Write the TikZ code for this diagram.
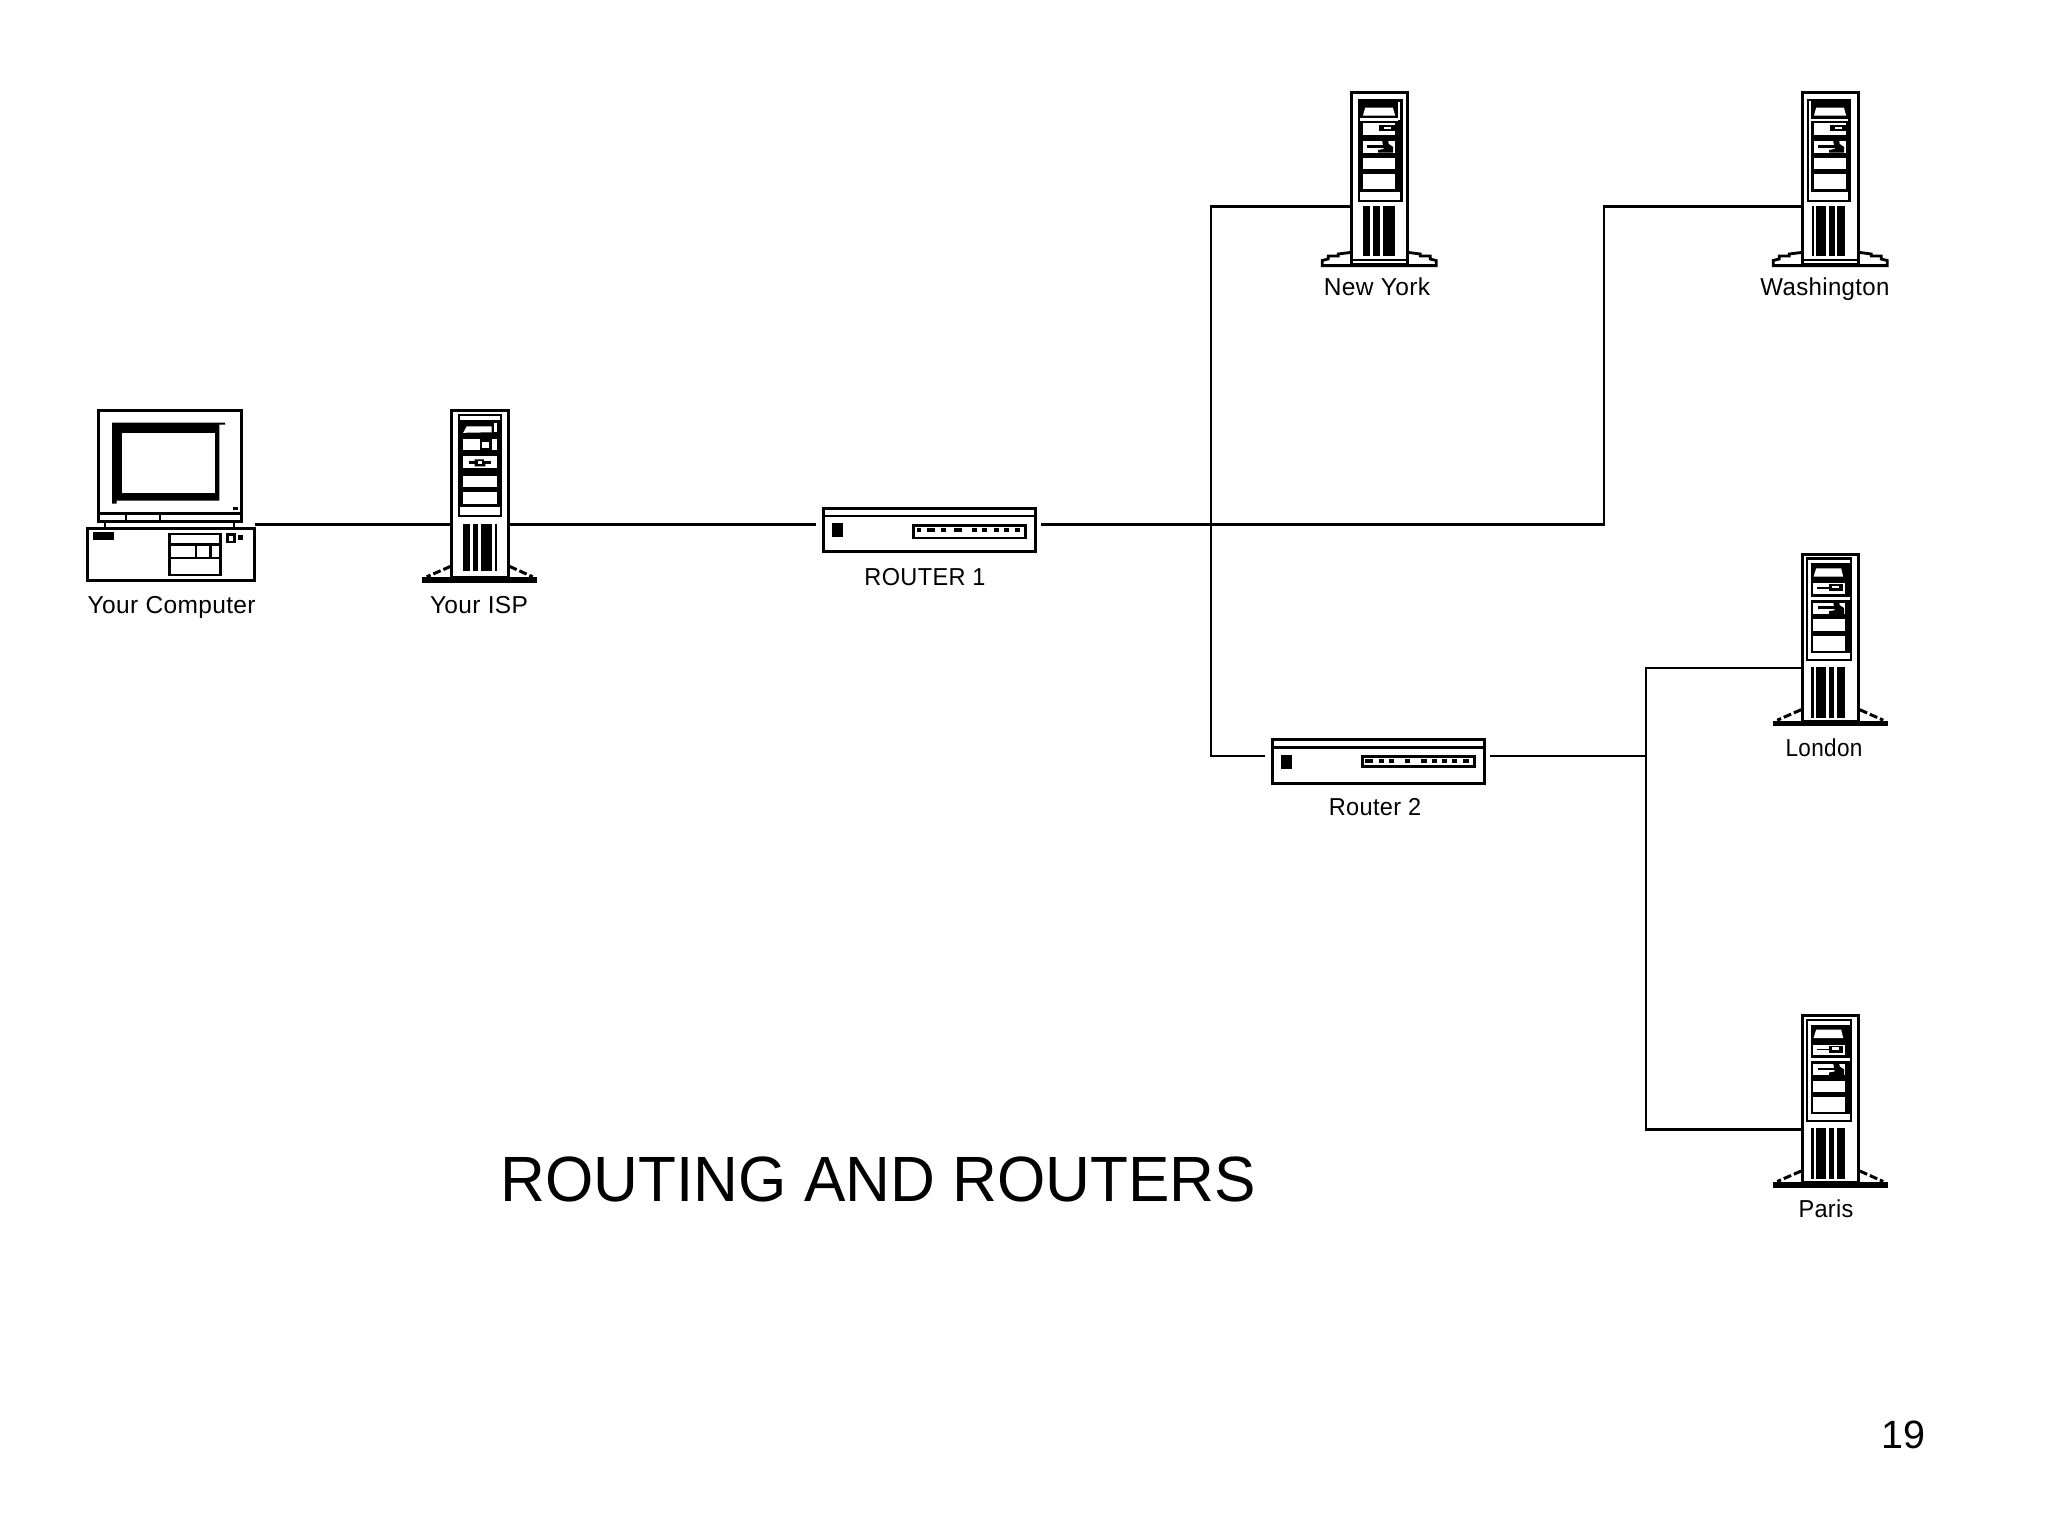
\documentclass[tikz,border=0pt]{standalone}
\usepackage{fontspec}
\setmainfont{Liberation Sans}
\newfontfamily\devfont[LetterSpace=1.5]{Liberation Sans}
% ---- server pieces (local coordinates: tower top left = 0,0; y points down)
\newcommand{\wbox}[4]{\fill[white] (#1,#3) rectangle (#2,#4);}
\newcommand{\kbox}[4]{\fill[black] (#1,#3) rectangle (#2,#4);}
\newcommand{\TowerSlope}{%
  \fill[white] (2,156) -- (-25,168) -- (-25,171) -- (84,171) -- (57,156) -- cycle;
  \kbox{-28.5}{86.5}{168}{173.5}
  \draw[footdash] (0,157) -- (-24,167.5);
  \draw[footdash] (58.6,157) -- (82,167.5);
  \node[towerbox,minimum height=167pt] (-body) at (29.3,85) {};
  \coordinate (-portw) at (0,115.3);
  \coordinate (-porte) at (58.6,115.3);
}
\newcommand{\TowerStep}{%
  \draw[line width=2.8pt,fill=white,miter limit=2]
    (0,161.5) -- (-12,163) -- (-12,165) -- (-22,165) -- (-22,168) -- (-28,169.5) -- (-28,174.6) -- (86,174.6)
    -- (86,169.5) -- (80,168) -- (80,165) -- (70,165) -- (70,163) -- (58.6,161.5);
  \node[towerbox,minimum height=172pt] (-body) at (29.3,87.5) {};
  \fill (0,167.5) rectangle (58.6,170);
  \coordinate (-portw) at (0,115.7);
  \coordinate (-porte) at (58.6,115.7);
}
\newcommand{\Slits}[5]{% x1 x2 y1 y2, list of slits
  \kbox{#1}{#2}{#3}{#4}
  \foreach \a/\b in {#5} {\fill[white] (\a,#3) rectangle (\b,#4);}
}
\newcommand{\GlyphRowTwo}[2]{% y of row top, left x of the row
  \kbox{#2+16}{45}{#1+1}{#1+7.5}
  \wbox{#2+21}{#2+28}{#1+3}{#1+5.5}
}
\newcommand{\GlyphRowThree}[1]{%
  \kbox{16.5}{33.5}{#1+4}{#1+6.7}
  \fill[black] (32,#1) -- (38,#1) -- (38.5,#1+3) -- (43,#1+6) -- (43,#1+11.7) -- (28,#1+11.7) -- (28,#1+9) -- (33.5,#1+8) -- cycle;
}
\newcommand{\PanelNY}{%
  \wbox{12.7}{45}{32.3}{44}
  \GlyphRowTwo{32.8}{12.7}
  \wbox{12.7}{45}{50}{61.7}
  \GlyphRowThree{50}
  \wbox{12.7}{45}{66.7}{78}
  \wbox{12.7}{45}{83.3}{98}
  \fill[white] (15,16.7) -- (42.7,16.7) -- (45,24.7) -- (12.7,24.7) -- cycle;
}
\tikzset{
  wire/.style={line width=2.7pt,line join=miter},
  towerbox/.style={draw=black,fill=white,line width=3pt,inner sep=0pt,outer sep=0pt,minimum width=56.6pt},
  footdash/.style={line width=3pt,dash pattern=on 8pt off 3pt},
  boxline/.style={draw=black,fill=white,line width=3pt,inner sep=0pt,outer sep=0pt},
  devlabel/.style={anchor=base,inner sep=0pt,font=\devfont\fontsize{24.5}{24.5}\selectfont},
  ispserver/.pic={
    \TowerSlope
    \kbox{7}{51.6}{4.7}{108}
    \wbox{9.3}{49.3}{6.7}{10.7}
    \fill[white] (16,17) -- (41,17) -- (41,23) -- (12.5,23.5) -- cycle;
    \wbox{43.3}{46.7}{13.5}{22.5}
    \wbox{12}{29}{30}{41}
    \wbox{31}{38}{33}{38.5}
    \wbox{41}{46.7}{30}{41}
    \wbox{12}{46.7}{47}{59}
    \kbox{18}{40}{52}{54.5}
    \fill[black] (24,50) -- (33,50) -- (35,57) -- (24,57) -- cycle;
    \wbox{27}{31}{52}{54.5}
    \wbox{12}{46.7}{66.7}{78}
    \wbox{12}{46.7}{83}{95}
    \wbox{9.3}{49.3}{97.5}{106}
    \Slits{12}{46}{114.7}{161.7}{19.5/21.8,27.7/30.3,41/44}
  },
  nyserver/.pic={
    \TowerStep
    \kbox{7.7}{52.3}{8}{110.7}
    \wbox{47.3}{49.3}{10.7}{29}
    \wbox{10}{47.3}{27.3}{30}
    \PanelNY
    \wbox{10}{49.3}{100.7}{109}
    \Slits{12.7}{44.3}{114.7}{165}{19.3/22.7,30/33}
  },
  washserver/.pic={
    \TowerStep
    \kbox{5.5}{49.5}{8}{110.7}
    \wbox{7.7}{10}{10.5}{108.5}
    \wbox{10}{47}{28}{30.5}
    \PanelNY
    \wbox{7.7}{47}{100.7}{108.5}
    \Slits{10.7}{44}{114.7}{165}{12.7/14.5,25/27.7,33.3/36}
  },
  londonserver/.pic={
    \TowerSlope
    \kbox{4.3}{51}{4.7}{108}
    \wbox{6.5}{48.5}{6.8}{10.7}
    \wbox{6.5}{10}{6.8}{106}
    \fill[white] (15,15.7) -- (40,15.7) -- (42,24) -- (12.3,24) -- cycle;
    \wbox{12}{44}{30.7}{41}
    \kbox{16}{31}{34.5}{36}
    \kbox{28}{42}{31.5}{38.5}
    \wbox{31}{38}{33}{35.5}
    \wbox{6.5}{48.5}{44}{47}
    \wbox{12}{44}{50}{61}
    \GlyphRowThree{49.5}
    \wbox{12}{44}{66.7}{78}
    \wbox{12}{44}{83}{98}
    \wbox{6.5}{48.5}{100}{106}
    \Slits{10}{44}{114}{165}{12.3/15,25/27.7,32.7/36}
  },
  routerbox/.pic={
    \node[boxline,minimum width=212pt,minimum height=43.6pt] (-body) at (107.5,23.3) {};
    \fill (0,8) rectangle (215,10.6);
    \coordinate (-portw) at (-6.5,17.8);
    \coordinate (-porte) at (218.7,17.8);
    \kbox{10}{20.8}{16.6}{30.6}
  },
  x=1pt,y=-1pt
}
\begin{document}
\begin{tikzpicture}[x=1pt,y=-1pt]
\useasboundingbox (0,0) rectangle (2048,1536);
\fill[white] (0,0) rectangle (2048,1536);

% ---- devices
\node[boxline,minimum width=143pt,minimum height=111pt] (monitor) at (169.7,466) {};
\fill[black] (112,422.7) -- (225,422.7) -- (225,424.7) -- (219.3,424.7) -- (219.3,500.7) -- (116.7,500.7) -- (116.7,503.5) -- (112,503.5) -- cycle;
\fill[white] (122.3,433.3) rectangle (215.3,492.7);
\fill[black] (233,506.7) rectangle (238,509.5);
\draw[line width=2.7pt] (98,513.5) -- (241,513.5);
\draw[line width=2.7pt] (126,513.5) -- (126,521);
\draw[line width=2.7pt] (160,513.5) -- (160,521);
\draw[line width=2.7pt] (105,522) -- (105,527);
\draw[line width=2.7pt] (234,522) -- (234,527);
\node[boxline,minimum width=167.3pt,minimum height=52.2pt] (pc) at (170.85,554.1) {};
\coordinate (pc-port) at (254.6,524.6);
\fill[black] (93.3,532) rectangle (114.3,540);
\draw[line width=2.7pt] (169.7,534) rectangle (220.3,575);
\draw[line width=2.7pt] (169.7,544.5) -- (220.3,544.5);
\draw[line width=2.7pt] (169.7,558) -- (220.3,558);
\draw[line width=2.7pt] (196,544.5) -- (196,558);
\draw[line width=2.7pt] (210.5,544.5) -- (210.5,558);
\draw[line width=2.7pt] (227.5,534.7) rectangle (234.5,542);
\fill[black] (238.3,535) rectangle (243.3,540);

\pic (isp) at (450.7,409.3) {ispserver};
\pic (ny) at (1350.2,91) {nyserver};
\pic (ws) at (1801.2,91) {washserver};
\pic (lo) at (1801.2,552.7) {londonserver};
\pic (pa) at (1801.2,1014) {londonserver};

\pic (ra) at (822.3,506.7) {routerbox};
\draw[line width=2.7pt,fill=white] (913.7,525.4) rectangle (1025.3,537.9);
\foreach \a/\b in {916.7/920.7,927.3/935,940.7/945.7,954/961.7,972.3/976.7,981.7/986.7,994/999,1004/1009,1015/1020}
  {\fill[black] (\a,528.3) rectangle (\b,531.7);}
\pic (rb) at (1271,738.3) {routerbox};
\draw[line width=2.7pt,fill=white] (1362.4,756.4) rectangle (1474.3,766.3);
\foreach \a/\b in {1365/1373.3,1379/1384,1389/1394,1405/1410,1420.7/1427.3,1431.7/1436.7,1442.3/1447.3,1452.3/1457.3,1463.3/1469}
  {\fill[black] (\a,759.3) rectangle (\b,762.7);}

% ---- connectors: the bends are free coordinates on the two trunk lines
\coordinate (trunkA) at (1211,0);
\coordinate (trunkB) at (1604,0);
\coordinate (trunkC) at (1646,0);
\draw[wire] (pc-port) -- (isp-portw);
\draw[wire] (isp-porte) -- (isp-porte -| ra-portw);
\draw[wire] (ra-porte |- isp-porte) -- (isp-porte -| trunkB) -- (ws-portw -| trunkB) -- (ws-portw);
\draw[wire] (ny-portw) -- (ny-portw -| trunkA) -- (rb-portw -| trunkA) -- (rb-portw);
\draw[wire] (rb-porte) -- (rb-porte -| trunkC);
\draw[wire] (lo-portw) -- (lo-portw -| trunkC) -- (pa-portw -| trunkC) -- (pa-portw);

% ---- labels
\node[devlabel] (lblpc) at (171.7,613) {Your Computer};
\node[devlabel] (lblisp) at (479,613) {Your ISP};
\node[devlabel,xscale=0.96,transform shape] (lblra) at (925,585) {ROUTER 1};
\node[devlabel,xscale=0.96,transform shape] (lblrb) at (1375,815.7) {Router 2};
\node[devlabel] (lblny) at (1377,295) {New York};
\node[devlabel,xscale=0.98,transform shape] (lblws) at (1825,295) {Washington};
\node[devlabel,xscale=0.92,transform shape] (lbllo) at (1824,756) {London};
\node[devlabel,xscale=0.96,transform shape] (lblpa) at (1826,1217) {Paris};

\node[anchor=base west,inner sep=0pt,xscale=0.97,transform shape,font=\fontsize{64}{64}\selectfont] (title) at (500.5,1201) {ROUTING AND ROUTERS};
\node[anchor=base east,inner sep=0pt,font=\fontsize{39.5}{39.5}\selectfont] (pageno) at (1926,1448) {19};
\end{tikzpicture}
\end{document}
